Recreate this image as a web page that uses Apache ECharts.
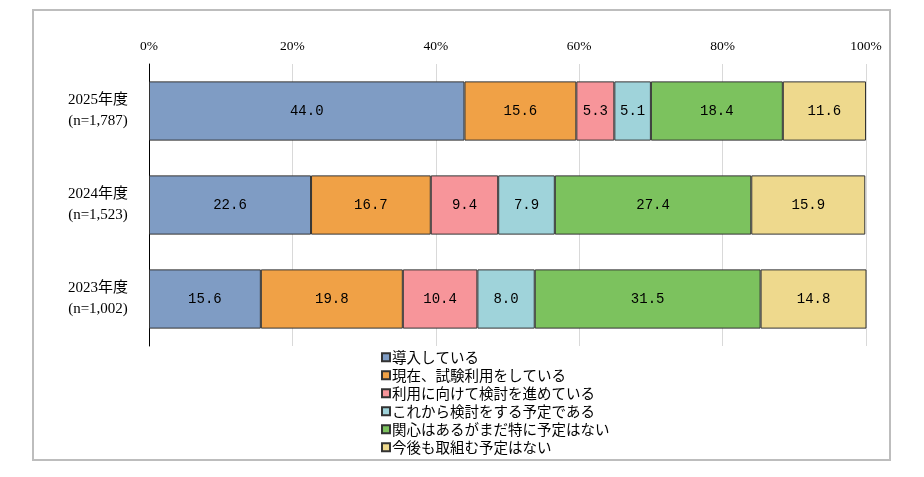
<!DOCTYPE html>
<html>
<head>
<meta charset="utf-8">
<script src="https://cdn.jsdelivr.net/npm/echarts@6/dist/echarts.min.js"></script>
<style>
  html, body { margin: 0; padding: 0; background: #fff; }
  #chart { width: 924px; height: 477px; }
</style>
</head>
<body>
<div id="chart"></div>
<script>
let years = ['2025年度\n(n=1,787)', '2024年度\n(n=1,523)', '2023年度\n(n=1,002)'];
let seriesNames = [
    '導入している',
    '現在、試験利用をしている',
    '利用に向けて検討を進めている',
    'これから検討をする予定である',
    '関心はあるがまだ特に予定はない',
    '今後も取組む予定はない'
];
let introduced = [44.0, 22.6, 15.6];
let trial = [15.6, 16.7, 19.8];
let considering = [5.3, 9.4, 10.4];
let planning = [5.1, 7.9, 8.0];
let interested = [18.4, 27.4, 31.5];
let noPlan = [11.6, 15.9, 14.8];

let color = ['#7f9cc4', '#f0a146', '#f7959a', '#9fd3da', '#7cc25e', '#eed98d'];
let font = '"Liberation Serif", "Noto Sans CJK JP", serif';

let values = [introduced, trial, considering, planning, interested, noPlan];
let series = seriesNames.map(function (name, i) {
    return {
        name: name,
        type: 'bar',
        stack: 'total',
        barWidth: '63%',
        itemStyle: {
            color: color[i],
            borderColor: '#333',
            borderWidth: 1
        },
        label: {
            show: true,
            position: 'inside',
            color: '#000',
            fontFamily: '"Liberation Mono", monospace',
            fontSize: 14,
            formatter: function (p) { return p.value.toFixed(1); }
        },
        data: values[i]
    };
});

let chart = echarts.init(document.getElementById('chart'));
chart.setOption({
    backgroundColor: '#fff',
    animation: false,
    textStyle: { fontFamily: font },
    graphic: [{
        type: 'rect',
        shape: { x: 33, y: 10, width: 857, height: 450 },
        style: { fill: 'none', stroke: '#bdbdbd', lineWidth: 2 }
    }],
    grid: { left: 149, right: 58, top: 64, bottom: 131 },
    legend: {
        orient: 'vertical',
        left: 376,
        top: 345,
        itemWidth: 8,
        itemHeight: 8,
        itemGap: 3.5,
        icon: 'rect',
        textStyle: { fontSize: 14.5, color: '#000', fontFamily: '"Noto Sans CJK JP", sans-serif', padding: [0, 0, 0, -3] },
        data: seriesNames
    },
    xAxis: {
        type: 'value',
        position: 'top',
        min: 0,
        max: 100,
        interval: 20,
        axisLine: { show: false },
        axisTick: { show: false },
        axisLabel: { formatter: '{value}%', color: '#000', fontSize: 13.5, margin: 11, fontFamily: font },
        splitLine: { lineStyle: { color: '#d9d9d9', width: 1 } }
    },
    yAxis: {
        type: 'category',
        inverse: true,
        data: years,
        axisLine: { show: true, lineStyle: { color: '#000', width: 1 } },
        axisTick: { show: false },
        axisLabel: { color: '#000', fontSize: 15, lineHeight: 21, margin: 10, align: 'center', padding: [0, 82, 0, 0], fontFamily: font }
    },
    series: series
});
</script>
</body>
</html>
